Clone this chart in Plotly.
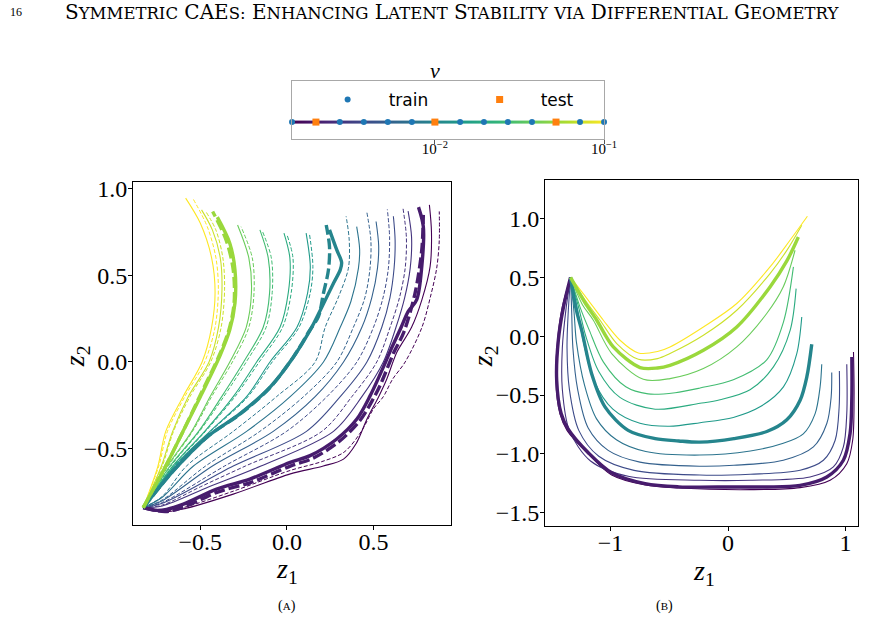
import numpy as np
import plotly.graph_objects as go
from plotly.colors import sample_colorscale

W, H = 871, 644
# small correction between layout pixels and the photographed page (measured in earlier rounds)
SX, SY, OY = 0.985, 0.99, 6.0

NU = [0.00143, 0.00198, 0.00274, 0.0038, 0.00527, 0.00731, 0.01,
      0.0141, 0.0195, 0.027, 0.0375, 0.052, 0.0721, 0.1]
TRAIN = [0, 2, 3, 4, 5, 7, 8, 9, 10, 12, 13]
TEST = [1, 6, 11]

# ---------------- panel (A): latent trajectories, solid = reference, dashed = prediction
S_A = (-0.83, -0.84)
A_SOLID = [
    [S_A, (-0.72, -0.865), (-0.60, -0.848), (-0.31, -0.762), (0.02, -0.645), (0.21, -0.60), (0.327, -0.56),
     (0.40, -0.47), (0.462, -0.33), (0.53, -0.2), (0.577, -0.098), (0.635, 0.056), (0.72, 0.2), (0.78, 0.36),
     (0.827, 0.55), (0.835, 0.75), (0.823, 0.906)],
    [S_A, (-0.76, -0.855), (-0.695, -0.85), (-0.598, -0.82), (-0.406, -0.733), (-0.214, -0.675), (0.019, -0.579),
     (0.134, -0.54), (0.288, -0.444), (0.404, -0.329), (0.481, -0.194), (0.57, 0.0), (0.60, 0.07), (0.66, 0.2),
     (0.70, 0.29), (0.75, 0.36), (0.779, 0.55), (0.788, 0.78), (0.76, 0.893)],
    [S_A, (-0.72, -0.83), (-0.45, -0.72), (-0.15, -0.6), (0.269, -0.4), (0.433, -0.2), (0.557, 0.0), (0.63, 0.2),
     (0.68, 0.37), (0.712, 0.54), (0.72, 0.72), (0.70, 0.87)],
    [S_A, (-0.72, -0.815), (-0.31, -0.6), (0.113, -0.4), (0.308, -0.2), (0.462, 0.0), (0.548, 0.2), (0.595, 0.37),
     (0.619, 0.54), (0.625, 0.70), (0.615, 0.84)],
    [S_A, (-0.72, -0.80), (-0.43, -0.6), (-0.079, -0.4), (0.163, -0.2), (0.327, 0.0), (0.433, 0.2), (0.49, 0.37),
     (0.523, 0.54), (0.53, 0.67), (0.515, 0.81)],
    [S_A, (-0.72, -0.78), (-0.54, -0.6), (-0.233, -0.4), (0.019, -0.2), (0.211, 0.0), (0.308, 0.2), (0.37, 0.35),
     (0.413, 0.54), (0.42, 0.65), (0.403, 0.78)],
    [S_A, (-0.654, -0.625), (-0.462, -0.433), (-0.27, -0.298), (-0.096, -0.144), (0.038, 0.029), (0.134, 0.183),
     (0.202, 0.317), (0.269, 0.454), (0.308, 0.531), (0.316, 0.574), (0.288, 0.646), (0.246, 0.762)],
    [S_A, (-0.65, -0.6), (-0.445, -0.4), (-0.233, -0.2), (-0.098, 0.0), (0.058, 0.2), (0.12, 0.4), (0.135, 0.55),
     (0.111, 0.743)],
    [S_A, (-0.66, -0.6), (-0.475, -0.4), (-0.31, -0.2), (-0.175, 0.0), (-0.04, 0.2), (0.008, 0.4), (0.017, 0.6),
     (-0.017, 0.743)],
    [S_A, (-0.675, -0.6), (-0.51, -0.4), (-0.377, -0.2), (-0.25, 0.0), (-0.137, 0.2), (-0.10, 0.4), (-0.108, 0.6),
     (-0.156, 0.762)],
    [S_A, (-0.69, -0.6), (-0.55, -0.4), (-0.444, -0.2), (-0.33, 0.0), (-0.235, 0.2), (-0.205, 0.4), (-0.22, 0.6),
     (-0.285, 0.79)],
    [S_A, (-0.70, -0.6), (-0.60, -0.4), (-0.50, -0.2), (-0.385, 0.04), (-0.33, 0.185), (-0.30, 0.34), (-0.30, 0.53),
     (-0.33, 0.685), (-0.402, 0.835)],
    [S_A, (-0.725, -0.6), (-0.66, -0.4), (-0.57, -0.2), (-0.45, 0.0), (-0.395, 0.2), (-0.375, 0.42), (-0.385, 0.6),
     (-0.43, 0.76), (-0.493, 0.877)],
    [S_A, (-0.745, -0.6), (-0.70, -0.4), (-0.60, -0.2), (-0.49, 0.0), (-0.435, 0.2), (-0.415, 0.4), (-0.435, 0.6),
     (-0.50, 0.80), (-0.585, 0.945)],
]
A_DASH = [
    [S_A, (-0.71, -0.86), (-0.60, -0.84), (-0.31, -0.745), (0.02, -0.625), (0.20, -0.575), (0.33, -0.52),
     (0.43, -0.40), (0.50, -0.27), (0.557, -0.2), (0.61, -0.1), (0.683, 0.0), (0.78, 0.2), (0.83, 0.38),
     (0.865, 0.54), (0.88, 0.70), (0.88, 0.868)],
    [S_A, (-0.70, -0.862), (-0.60, -0.838), (-0.40, -0.75), (-0.21, -0.695), (0.02, -0.60), (0.15, -0.555),
     (0.30, -0.46), (0.42, -0.34), (0.50, -0.21), (0.538, -0.136), (0.62, 0.06), (0.673, 0.166), (0.74, 0.396),
     (0.779, 0.646), (0.788, 0.848)],
    [S_A, (-0.72, -0.825), (-0.50, -0.72), (-0.24, -0.6), (0.202, -0.4), (0.375, -0.2), (0.519, 0.0), (0.596, 0.2),
     (0.65, 0.37), (0.683, 0.54), (0.69, 0.72), (0.67, 0.89)],
    [S_A, (-0.72, -0.81), (-0.36, -0.6), (-0.002, -0.4), (0.231, -0.2), (0.404, 0.0), (0.50, 0.2), (0.555, 0.37),
     (0.586, 0.54), (0.593, 0.72), (0.58, 0.88)],
    [S_A, (-0.72, -0.795), (-0.47, -0.6), (-0.156, -0.4), (0.096, -0.2), (0.288, 0.0), (0.384, 0.2), (0.45, 0.37),
     (0.48, 0.54), (0.485, 0.70), (0.462, 0.862)],
    [S_A, (-0.72, -0.775), (-0.58, -0.6), (-0.31, -0.4), (-0.06, -0.2), (0.163, 0.0), (0.221, 0.2), (0.30, 0.38),
     (0.355, 0.54), (0.36, 0.70), (0.342, 0.84)],
    [S_A, (-0.654, -0.625), (-0.462, -0.433), (-0.27, -0.30), (-0.10, -0.15), (0.035, 0.025), (0.13, 0.18),
     (0.182, 0.262), (0.211, 0.396), (0.24, 0.531), (0.246, 0.666), (0.227, 0.79)],
    [S_A, (-0.645, -0.6), (-0.44, -0.4), (-0.225, -0.2), (-0.085, 0.0), (0.07, 0.2), (0.135, 0.4), (0.15, 0.55),
     (0.13, 0.74)],
    [S_A, (-0.655, -0.6), (-0.47, -0.4), (-0.30, -0.2), (-0.16, 0.0), (-0.025, 0.2), (0.025, 0.4), (0.035, 0.6),
     (0.0, 0.735)],
    [S_A, (-0.67, -0.6), (-0.505, -0.4), (-0.365, -0.2), (-0.235, 0.0), (-0.12, 0.2), (-0.085, 0.4), (-0.09, 0.6),
     (-0.14, 0.75)],
    [S_A, (-0.685, -0.6), (-0.545, -0.4), (-0.435, -0.2), (-0.315, 0.0), (-0.22, 0.2), (-0.19, 0.4), (-0.20, 0.6),
     (-0.265, 0.78)],
    [S_A, (-0.70, -0.6), (-0.60, -0.4), (-0.505, -0.2), (-0.39, 0.04), (-0.335, 0.185), (-0.305, 0.34),
     (-0.31, 0.53), (-0.35, 0.70), (-0.429, 0.868)],
    [S_A, (-0.72, -0.6), (-0.655, -0.4), (-0.56, -0.2), (-0.44, 0.0), (-0.38, 0.2), (-0.36, 0.42), (-0.37, 0.6),
     (-0.41, 0.76), (-0.47, 0.87)],
    [S_A, (-0.74, -0.6), (-0.69, -0.4), (-0.59, -0.2), (-0.475, 0.0), (-0.415, 0.2), (-0.396, 0.42), (-0.41, 0.6),
     (-0.46, 0.78), (-0.541, 0.939)],
]

# ---------------- panel (B)
S_B = (-1.34, 0.50)
B_SOLID = [
    [S_B, (-1.41, 0.25), (-1.45, -0.03), (-1.465, -0.37), (-1.43, -0.66), (-1.37, -0.80), (-1.19, -1.00),
     (-0.99, -1.18), (-0.706, -1.265), (-0.42, -1.29), (0.187, -1.304), (0.613, -1.287), (0.868, -1.224),
     (1.01, -1.083), (1.06, -0.884), (1.072, -0.516), (1.067, -0.133)],
    [S_B, (-1.40, 0.25), (-1.444, -0.034), (-1.458, -0.374), (-1.42, -0.657), (-1.36, -0.79), (-1.189, -0.99),
     (-0.99, -1.16), (-0.706, -1.253), (-0.42, -1.28), (0.045, -1.281), (0.329, -1.281), (0.613, -1.267),
     (0.84, -1.196), (0.981, -1.054), (1.038, -0.827), (1.053, -0.516), (1.053, -0.176)],
    [S_B, (-1.38, 0.22), (-1.41, -0.1), (-1.41, -0.45), (-1.35, -0.80), (-1.17, -1.06), (-0.85, -1.19),
     (-0.24, -1.224), (0.19, -1.224), (0.698, -1.196), (0.896, -1.111), (0.981, -0.941), (1.01, -0.657),
     (1.01, -0.238)],
    [S_B, (-1.36, 0.20), (-1.37, -0.1), (-1.35, -0.45), (-1.27, -0.80), (-1.10, -1.02), (-0.80, -1.14),
     (-0.24, -1.18), (0.19, -1.173), (0.613, -1.139), (0.811, -1.054), (0.911, -0.884), (0.945, -0.601),
     (0.947, -0.295)],
    [S_B, (-1.33, 0.20), (-1.32, -0.1), (-1.28, -0.45), (-1.19, -0.78), (-1.02, -0.97), (-0.75, -1.07),
     (-0.24, -1.105), (0.05, -1.097), (0.47, -1.054), (0.726, -0.941), (0.84, -0.742), (0.877, -0.516),
     (0.882, -0.309)],
    [S_B, (-1.31, 0.20), (-1.29, -0.05), (-1.22, -0.42), (-1.12, -0.70), (-0.95, -0.88), (-0.70, -0.98),
     (-0.24, -1.01), (0.19, -0.975), (0.47, -0.91), (0.64, -0.83), (0.74, -0.66), (0.783, -0.43), (0.797, -0.238)],
    [S_B, (-1.29, 0.22), (-1.245, 0.05), (-1.16, -0.32), (-1.047, -0.60), (-0.85, -0.80), (-0.62, -0.87),
     (-0.42, -0.89), (-0.24, -0.90), (0.05, -0.87), (0.33, -0.81), (0.5, -0.71), (0.613, -0.544), (0.67, -0.346),
     (0.712, -0.068)],
    [S_B, (-1.28, 0.22), (-1.23, -0.05), (-1.14, -0.38), (-0.98, -0.62), (-0.75, -0.74), (-0.50, -0.765),
     (-0.238, -0.735), (0.045, -0.69), (0.272, -0.60), (0.471, -0.43), (0.584, -0.15), (0.627, 0.164)],
    [S_B, (-1.27, 0.24), (-1.21, 0.0), (-1.10, -0.30), (-0.92, -0.52), (-0.62, -0.62), (-0.238, -0.57),
     (-0.068, -0.54), (0.187, -0.455), (0.386, -0.26), (0.528, 0.05), (0.579, 0.405)],
    [S_B, (-1.26, 0.25), (-1.18, 0.05), (-1.06, -0.22), (-0.87, -0.43), (-0.68, -0.49), (-0.45, -0.48),
     (-0.238, -0.44), (0.045, -0.37), (0.329, -0.20), (0.471, 0.12), (0.556, 0.589)],
    [S_B, (-1.24, 0.27), (-1.146, 0.136), (-0.99, -0.147), (-0.721, -0.366), (-0.494, -0.36), (-0.21, -0.275),
     (0.074, -0.091), (0.329, 0.193), (0.47, 0.42), (0.57, 0.731)],
    [S_B, (-1.22, 0.29), (-1.117, 0.136), (-0.976, -0.091), (-0.749, -0.266), (-0.60, -0.27), (-0.494, -0.247),
     (-0.21, -0.119), (0.074, 0.079), (0.357, 0.419), (0.50, 0.64), (0.598, 0.844)],
    [S_B, (-1.21, 0.30), (-1.089, 0.136), (-0.947, -0.062), (-0.763, -0.196), (-0.60, -0.19), (-0.494, -0.147),
     (-0.21, 0.008), (0.074, 0.221), (0.357, 0.533), (0.50, 0.73), (0.627, 0.944)],
    [S_B, (-1.20, 0.32), (-1.061, 0.136), (-0.919, -0.034), (-0.763, -0.142), (-0.60, -0.13), (-0.494, -0.091),
     (-0.21, 0.079), (0.074, 0.278), (0.357, 0.589), (0.53, 0.82), (0.675, 1.02)],
]

# ---------------- colours from log(nu) through the viridis scale
logs = np.log10(np.array(NU))
frac = (logs - logs.min()) / (logs.max() - logs.min())
COLORS = sample_colorscale("Viridis", list(frac))

SERIF = "Liberation Serif"
fig = go.Figure()


def add_curve(points, color, xa, ya, thick, dashed):
    xs = [p[0] for p in points]
    ys = [p[1] for p in points]
    if thick:
        width = 3.4
        dash = "11px,4px" if dashed else "solid"
    else:
        width = 1.1 if not dashed else 1.0
        dash = "4px,2px" if dashed else "solid"
    fig.add_trace(go.Scatter(x=xs, y=ys, mode="lines", xaxis=xa, yaxis=ya,
                             line=dict(color=color, width=width, dash=dash, shape="spline", smoothing=0.9),
                             showlegend=False, hoverinfo="skip"))


for group in (TRAIN, TEST):
    thick = group is TEST
    for i in group:
        add_curve(A_SOLID[i], COLORS[i], "x", "y", thick, False)
        add_curve(A_DASH[i], COLORS[i], "x", "y", thick, True)
        add_curve(B_SOLID[i], COLORS[i], "x2", "y2", thick, False)

# ---------------- colour strip with train / test markers
fig.add_trace(go.Heatmap(x=list(logs), y=[-0.013, 0.013], z=[list(frac), list(frac)],
                         colorscale="Viridis", zmin=0, zmax=1, zsmooth="best", showscale=False,
                         xaxis="x3", yaxis="y3", hoverinfo="skip"))
fig.add_trace(go.Scatter(x=[logs[i] for i in TRAIN], y=[0] * len(TRAIN), mode="markers", name="train",
                         marker=dict(color="#1f77b4", size=6, symbol="circle"), xaxis="x3", yaxis="y3",
                         cliponaxis=False))
fig.add_trace(go.Scatter(x=[logs[i] for i in TEST], y=[0] * len(TEST), mode="markers", name="test",
                         marker=dict(color="#ff7f0e", size=7, symbol="square"), xaxis="x3", yaxis="y3",
                         cliponaxis=False))


def lx(X):  # target screen x -> layout pixel
    return X / SX


def ly(Y):  # target screen y -> layout pixel
    return (Y - OY) / SY


def fx(X):
    return min(1.0, lx(X) / W)


def fy(Y):
    return 1 - ly(Y) / H


def dom_x(a, b):
    return [fx(a), fx(b)]


def dom_y(top, bottom):
    return [fy(bottom), fy(top)]


# panel B: right edge cannot go past the page, keep the data scale of the target box
b_left, b_right = lx(545), lx(862)
b_range_right = -1.557 + (W - b_left) / (b_right - b_left) * (1.14 + 1.557)

tickfont = dict(family=SERIF, size=24, color="black")
common = dict(showgrid=False, zeroline=False, showline=True, linecolor="black", linewidth=1, mirror=True,
              ticks="outside", ticklen=4, tickwidth=1, tickcolor="black", tickfont=tickfont)

fig.update_layout(
    width=W, height=H, margin=dict(l=0, r=0, t=0, b=0),
    paper_bgcolor="white", plot_bgcolor="white",
    xaxis=dict(domain=dom_x(133, 451), range=[-0.889, 0.948], tickvals=[-0.5, 0.0, 0.5],
               ticktext=["−0.5", "0.0", "0.5"], anchor="y", ticklabelstandoff=-9, **common),
    yaxis=dict(domain=dom_y(182, 525), range=[-0.942, 1.037], tickvals=[-0.5, 0.0, 0.5, 1.0],
               ticktext=["−0.5", "0.0", "0.5", "1.0"], anchor="x", ticklabelstandoff=-4, **common),
    xaxis2=dict(domain=dom_x(545, 862), range=[-1.557, b_range_right], tickvals=[-1, 0, 1],
                ticktext=["−1", "0", "1"], anchor="y2", ticklabelstandoff=-9, **common),
    yaxis2=dict(domain=dom_y(180, 526), range=[-1.616, 1.327], tickvals=[-1.5, -1.0, -0.5, 0.0, 0.5, 1.0],
                ticktext=["−1.5", "−1.0", "−0.5", "0.0", "0.5", "1.0"], anchor="x2", ticklabelstandoff=-4,
                **common),
    xaxis3=dict(domain=dom_x(292, 604), range=[logs[0], logs[-1]], anchor="y3",
                tickvals=[-2, -1], ticktext=["10<sup>−2</sup>", "10<sup>−1</sup>"],
                tickfont=dict(family=SERIF, size=15, color="black"), ticklabelstandoff=-8,
                showgrid=False, zeroline=False, showline=True, linecolor="#a8a8a8", linewidth=1, mirror=True,
                ticks="outside", ticklen=4, tickcolor="#555"),
    yaxis3=dict(domain=dom_y(81, 139), range=[-0.293, 0.707], anchor="x3", showticklabels=False,
                ticks="", showgrid=False, zeroline=False, showline=True, linecolor="#a8a8a8", linewidth=1,
                mirror=True),
    legend=dict(orientation="h", x=(lx(347) - 41) / W, y=fy(100), xanchor="left", yanchor="middle",
                font=dict(family="DejaVu Sans", size=17, color="black"), itemwidth=72,
                entrywidth=65, entrywidthmode="pixels", bgcolor="rgba(0,0,0,0)", borderwidth=0),
)

small = "<span style='font-size:16.5px'>%s</span>"
title_text = ("S" + small % "YMMETRIC" + " CAE" + small % "S:" + " E" + small % "NHANCING" + " L" +
              small % "ATENT" + " S" + small % "TABILITY" + " " + small % "VIA" + " D" +
              small % "IFFERENTIAL" + " G" + small % "EOMETRY")
ZT = "<i>z</i><sub>%d</sub>"
ann = [
    dict(x=fx(8), y=fy(12), text="16", xanchor="left", font=dict(family=SERIF, size=12)),
    dict(x=fx(452), y=fy(12), text=title_text, xanchor="center", font=dict(family="DejaVu Serif", size=20)),
    dict(x=fx(435), y=fy(70), text="<i>ν</i>", xanchor="center", font=dict(family=SERIF, size=22)),
    dict(x=fx(287), y=fy(606), text="(<span style='font-size:11px'>A</span>)", xanchor="center",
         font=dict(family=SERIF, size=14)),
    dict(x=fx(664), y=fy(606), text="(<span style='font-size:11px'>B</span>)", xanchor="center",
         font=dict(family=SERIF, size=14)),
    dict(x=fx(287), y=fy(570), text=ZT % 1, xanchor="center", font=dict(family=SERIF, size=28)),
    dict(x=fx(704), y=fy(572), text=ZT % 1, xanchor="center", font=dict(family=SERIF, size=28)),
    dict(x=fx(76), y=fy(356), text=ZT % 2, xanchor="center", textangle=-90, font=dict(family=SERIF, size=28)),
    dict(x=fx(484), y=fy(356), text=ZT % 2, xanchor="center", textangle=-90, font=dict(family=SERIF, size=28)),
]
for a in ann:
    a.update(xref="paper", yref="paper", yanchor="middle", showarrow=False)
    a["font"]["color"] = "black"
fig.update_layout(annotations=ann)

fig.write_html("out.html")
